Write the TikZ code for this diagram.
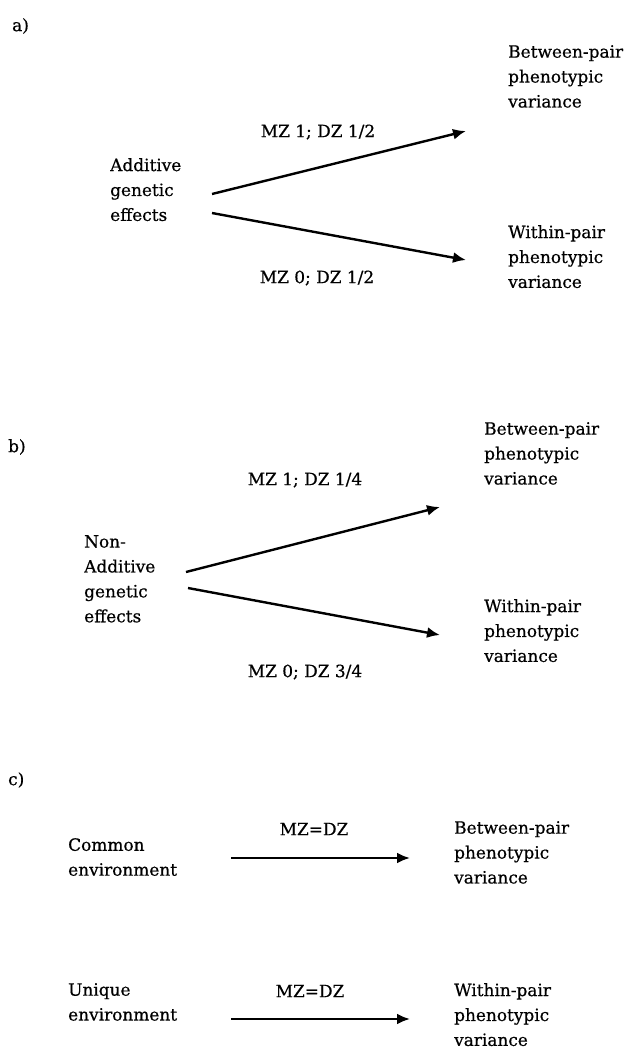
\documentclass[tikz,border=0pt]{standalone}
\usepackage{fontspec}
\setmainfont{DejaVu Serif}[BoldFont=DejaVu Serif, BoldFeatures={FakeBold=0.6}]
\usetikzlibrary{arrows.meta}
\tikzset{
  txt/.style={anchor=north west, inner sep=0pt, align=left, font=\fontsize{17}{25}\selectfont\bfseries},
  lbl/.style={anchor=center, inner sep=0pt, font=\fontsize{17}{25}\selectfont\bfseries},
  part/.style={anchor=west, inner sep=0pt, font=\fontsize{17}{25}\selectfont\bfseries},
  arr/.style={line width=2.4bp, -{Latex[length=13bp,width=11bp]}}
}
\begin{document}
\begin{tikzpicture}[x=1bp,y=-1bp]
\useasboundingbox (0,0) rectangle (627,1048);
% ---- a)
\node[part] (pa) at (12,26) {a)};
\node[txt] (aB) at (508,45) {Between-pair\\phenotypic\\variance};
\node[txt] (aS) at (110,158) {Additive\\genetic\\effects};
\node[txt] (aW) at (508,225) {Within-pair\\phenotypic\\variance};
\node[lbl] (al1) at (318,132) {MZ 1; DZ 1/2};
\node[lbl] (al2) at (317,278) {MZ 0; DZ 1/2};
\coordinate (a1s) at (212,194); \coordinate (a1e) at (466,131);
\coordinate (a2s) at (212,213); \coordinate (a2e) at (466,260);
\draw[arr] (a1s) -- (a1e);
\draw[arr] (a2s) -- (a2e);
% ---- b)
\node[part] (pb) at (8,447) {b)};
\node[txt] (bB) at (484,422) {Between-pair\\phenotypic\\variance};
\node[txt] (bS) at (84,535) {Non-\\Additive\\genetic\\effects};
\node[txt] (bW) at (484,599) {Within-pair\\phenotypic\\variance};
\node[lbl] (bl1) at (305,480) {MZ 1; DZ 1/4};
\node[lbl] (bl2) at (305,672) {MZ 0; DZ 3/4};
\coordinate (b1s) at (186,572); \coordinate (b1e) at (440,507);
\coordinate (b2s) at (188,588); \coordinate (b2e) at (440,635);
\draw[arr] (b1s) -- (b1e);
\draw[arr] (b2s) -- (b2e);
% ---- c)
\node[part] (pc) at (8,780) {c)};
\node[txt] (cC) at (68,838) {Common\\environment};
\node[lbl] (cl1) at (314,829) {MZ=DZ};
\node[txt] (cB) at (454,821) {Between-pair\\phenotypic\\variance};
\coordinate (c1s) at (231,858); \coordinate (c1e) at (410,858);
\draw[arr] (c1s) -- (c1e);
\node[txt] (cU) at (68,983) {Unique\\environment};
\node[lbl] (cl2) at (310,991) {MZ=DZ};
\node[txt] (cW) at (454,983) {Within-pair\\phenotypic\\variance};
\coordinate (c2s) at (231,1019); \coordinate (c2e) at (410,1019);
\draw[arr] (c2s) -- (c2e);
\end{tikzpicture}
\end{document}
